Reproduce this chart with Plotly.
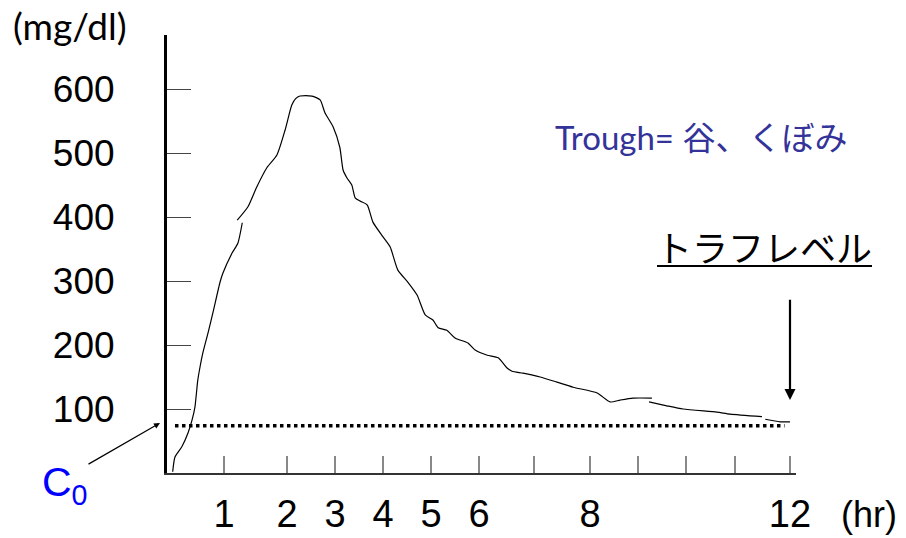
import numpy as np
import plotly.graph_objects as go

# ---- data ----
hour_grid = [0, 1, 2, 3, 4, 5, 6, 7, 8, 9, 10, 11, 12]
# position of each hour tick along the (hand-drawn, irregular) time axis
pos_grid = [0, 57, 120, 168, 216, 264, 312, 367, 423, 471, 519, 568, 623]
tick_hours = [1, 2, 3, 4, 5, 6, 7, 8, 9, 10, 11, 12]
tick_labels = ["1", "2", "3", "4", "5", "6", "", "8", "", "", "", "12"]
y_ticks = [100, 200, 300, 400, 500, 600]

seg1_h = [0.10, 0.14, 0.26, 0.37, 0.44, 0.49, 0.54, 0.58, 0.63, 0.72, 0.81, 0.93, 0.98, 1.13, 1.22, 1.29]
seg1_c = [2, 25, 41, 63, 83, 103, 145, 166, 188, 219, 252, 298, 312, 344, 359, 391]

seg2_h = [1.21, 1.38, 1.52, 1.68, 1.84, 1.97, 2.10, 2.18, 2.27, 2.52, 2.69, 2.79, 2.96, 3.10, 3.17,
          3.25, 3.35, 3.42, 3.52, 3.67, 3.79, 4.00, 4.15, 4.31, 4.52, 4.71, 4.88, 5.04, 5.15, 5.33,
          5.50, 5.77, 5.92, 6.15, 6.35, 6.51, 6.60, 6.80, 7.11, 7.41, 7.70, 8.15, 8.42, 8.63, 8.90, 9.29]
seg2_c = [395, 416, 447, 477, 497, 536, 575, 585, 589, 589, 583, 563, 541, 509, 473,
          461, 450, 430, 425, 419, 392, 369, 353, 317, 298, 278, 247, 239, 227, 223,
          211, 203, 192, 184, 180, 164, 159, 156, 150, 142, 134, 125, 111, 114, 117, 117]

seg3_h = [9.23, 9.60, 9.94, 10.63, 10.90, 11.49]
seg3_c = [111, 105, 100, 95, 92, 88]

seg4_h = [11.55, 11.82, 12.00]
seg4_c = [84, 80, 80]

trough_start_h, trough_end_h, trough_c = 0.14, 11.9, 74
arrow_h, arrow_from_c, arrow_to_c = 12, 273, 114


def pos(h):
    return np.interp(h, hour_grid, pos_grid)


# ---- layout geometry ----
W, H = 906, 538
ML, MR, MT, MB = 167, 110, 35, 65
PW, PH = W - ML - MR, H - MT - MB


def px_x(x):
    return (x - ML) / PW


def px_y(y):
    return (H - MB - y) / PH


fig = go.Figure()
for hs, cs in [(seg1_h, seg1_c), (seg2_h, seg2_c), (seg3_h, seg3_c), (seg4_h, seg4_c)]:
    fig.add_trace(go.Scatter(x=pos(hs), y=cs, mode="lines",
                             line=dict(color="black", width=1.2, shape="spline", smoothing=0.6),
                             showlegend=False, hoverinfo="skip"))

fig.add_trace(go.Scatter(x=pos([trough_start_h, trough_end_h]), y=[trough_c, trough_c], mode="lines",
                         line=dict(color="black", width=3.5, dash="3.5px,3.5px"),
                         showlegend=False, hoverinfo="skip"))

narrow = "Liberation Sans Narrow, Arial Narrow, Liberation Sans, sans-serif"

fig.update_layout(
    width=W, height=H,
    margin=dict(l=ML, r=MR, t=MT, b=MB, autoexpand=False),
    paper_bgcolor="white", plot_bgcolor="white",
    xaxis=dict(range=[0, PW], tickvals=pos(tick_hours), ticktext=tick_labels,
               ticks="inside", ticklen=17, tickwidth=1.5, tickcolor="#888888",
               showline=True, linecolor="#333333", linewidth=2,
               showgrid=False, zeroline=False, automargin=False,
               tickfont=dict(family=narrow, size=38, color="black"),
               ticklabelstandoff=6),
    yaxis=dict(range=[0, PH / 0.64], tickvals=y_ticks,
               ticks="inside", ticklen=24, tickwidth=1, tickcolor="#444444",
               showline=True, linecolor="black", linewidth=3,
               showgrid=False, zeroline=False, automargin=False,
               tickfont=dict(family="Liberation Sans, Arial, sans-serif", size=37, color="black"),
               ticklabelstandoff=42),
)


def label(text, x, y, font):
    return dict(text=text, x=px_x(x), y=px_y(y), xref="paper", yref="paper",
                xanchor="center", yanchor="middle", showarrow=False, font=font)


annotations = [
    label("(mg/dl)", 70, 26, dict(family="Lato, Noto Sans, sans-serif", size=37, color="black")),
    label("(hr)", 869, 514, dict(family=narrow, size=36, color="black")),
    label("Trough= 谷、くぼみ", 701, 137,
          dict(family="Lato, Noto Sans CJK JP, sans-serif", size=33, color="#333399")),
    label("トラフレベル", 764, 246, dict(family="Noto Sans CJK JP, sans-serif", size=36, color="black")),
    label("C<sub>0</sub>", 65, 485, dict(family="Liberation Sans, Arial, sans-serif", size=41, color="#0000ff")),
    dict(text="", x=px_x(160), y=px_y(423), xref="paper", yref="paper",
         showarrow=True, ax=-73, ay=42, arrowhead=2, arrowsize=1, arrowwidth=1.2, arrowcolor="black"),
    dict(text="", x=pos(arrow_h), y=arrow_to_c, xref="x", yref="y",
         ax=pos(arrow_h), ay=arrow_from_c, axref="x", ayref="y",
         showarrow=True, arrowhead=2, arrowsize=1, arrowwidth=2.2, arrowcolor="black"),
]
fig.update_layout(annotations=annotations)

fig.add_shape(type="line", xref="paper", yref="paper",
              x0=px_x(657), x1=px_x(872), y0=px_y(266), y1=px_y(266),
              line=dict(color="black", width=2))

fig.write_html("out.html", config={"displayModeBar": False},
               post_script="document.body.style.margin='0';document.body.style.padding='0';")
